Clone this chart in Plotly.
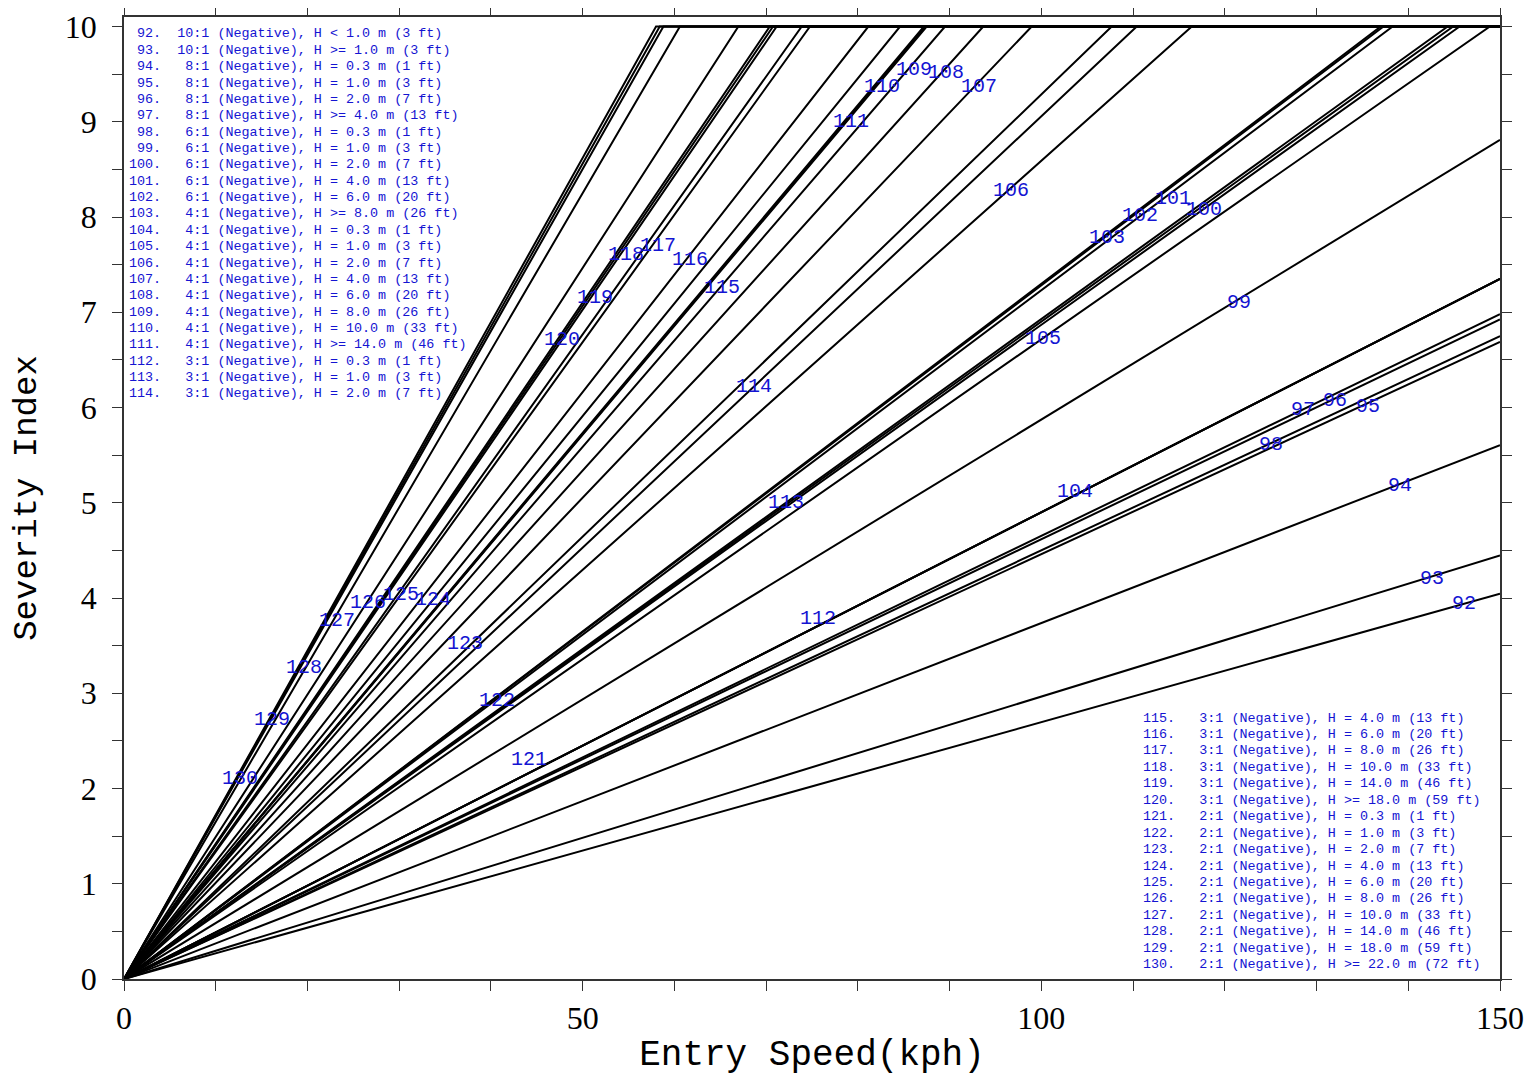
import plotly.graph_objects as go

# ---------------- data ----------------
line_ids = list(range(92, 131))

# end point of each line: speed (kph) where it reaches its final severity, and that severity
end_speed = [150, 150, 150, 150, 150, 150, 150, 150,
             145.6, 138.3, 137.3, 137.0, 150, 148.9, 116.4, 98.95,
             93.67, 89.5, 87.5, 87.2, 150, 144.3, 110.4, 87.35,
             81.14, 74.78, 70.4, 70.75, 71.15, 150, 144.9, 107.67,
             84.6, 73.88, 66.97, 60.6, 58.8, 58.0, 58.4]
end_si = [4.045, 4.447, 5.605, 6.69, 6.925, 6.98, 6.75, 8.81,
          10, 10, 10, 10, 7.35, 10, 10, 10,
          10, 10, 10, 10, 7.35, 10, 10, 10,
          10, 10, 10, 10, 10, 7.35, 10, 10,
          10, 10, 10, 10, 10, 10, 10]

# position of the number label of each line (speed, severity)
label_speed = [146.1, 142.6, 139.1, 135.6, 132.0, 128.5, 125.0, 121.6,
               117.7, 114.3, 110.8, 107.2, 103.7, 100.2, 96.7, 93.2,
               89.6, 86.1, 82.6, 79.2, 75.7, 72.2, 68.7, 65.2,
               61.7, 58.2, 54.7, 51.3, 47.8, 44.2, 40.7, 37.2,
               33.7, 30.2, 26.6, 23.2, 19.6, 16.1, 12.6]
label_si = [3.94, 4.21, 5.18, 6.01, 6.07, 5.98, 5.61, 7.10,
            8.08, 8.19, 8.02, 7.79, 5.12, 6.72, 8.28, 9.37,
            9.52, 9.55, 9.37, 9.00, 3.78, 5.00, 6.22, 7.26,
            7.55, 7.70, 7.61, 7.16, 6.71, 2.30, 2.92, 3.52,
            3.98, 4.04, 3.95, 3.76, 3.27, 2.72, 2.11]

slopes = ["10:1", "10:1", "8:1", "8:1", "8:1", "8:1", "6:1", "6:1",
          "6:1", "6:1", "6:1", "4:1", "4:1", "4:1", "4:1", "4:1",
          "4:1", "4:1", "4:1", "4:1", "3:1", "3:1", "3:1", "3:1",
          "3:1", "3:1", "3:1", "3:1", "3:1", "2:1", "2:1", "2:1",
          "2:1", "2:1", "2:1", "2:1", "2:1", "2:1", "2:1"]
heights = ["H < 1.0 m (3 ft)", "H >= 1.0 m (3 ft)", "H = 0.3 m (1 ft)", "H = 1.0 m (3 ft)",
           "H = 2.0 m (7 ft)", "H >= 4.0 m (13 ft)", "H = 0.3 m (1 ft)", "H = 1.0 m (3 ft)",
           "H = 2.0 m (7 ft)", "H = 4.0 m (13 ft)", "H = 6.0 m (20 ft)", "H >= 8.0 m (26 ft)",
           "H = 0.3 m (1 ft)", "H = 1.0 m (3 ft)", "H = 2.0 m (7 ft)", "H = 4.0 m (13 ft)",
           "H = 6.0 m (20 ft)", "H = 8.0 m (26 ft)", "H = 10.0 m (33 ft)", "H >= 14.0 m (46 ft)",
           "H = 0.3 m (1 ft)", "H = 1.0 m (3 ft)", "H = 2.0 m (7 ft)", "H = 4.0 m (13 ft)",
           "H = 6.0 m (20 ft)", "H = 8.0 m (26 ft)", "H = 10.0 m (33 ft)", "H = 14.0 m (46 ft)",
           "H >= 18.0 m (59 ft)", "H = 0.3 m (1 ft)", "H = 1.0 m (3 ft)", "H = 2.0 m (7 ft)",
           "H = 4.0 m (13 ft)", "H = 6.0 m (20 ft)", "H = 8.0 m (26 ft)", "H = 10.0 m (33 ft)",
           "H = 14.0 m (46 ft)", "H = 18.0 m (59 ft)", "H >= 22.0 m (72 ft)"]

x_tick_values = list(range(0, 151, 10))
x_tick_labels = ["0" if v == 0 else (str(v) if v % 50 == 0 else "") for v in x_tick_values]
y_tick_values = [i * 0.5 for i in range(21)]
y_tick_labels = [str(int(v)) if v == int(v) else "" for v in y_tick_values]

# ---------------- figure ----------------
# the page body adds an 8px offset; figure size/margins compensate for it
OFF = 8
W, H = 1536 - OFF, 1076 - OFF
ML, MR, MT, MB = 124 - OFF, 36, 17 - OFF, 97
# plot area in screen pixels
SX0, SX1, SY0, SY1 = 124, 1500, 17, 979
BLUE = "#1414d2"
MONO = "Liberation Mono"

fig = go.Figure()
for i, lid in enumerate(line_ids):
    fig.add_trace(go.Scatter(
        x=[0, end_speed[i], 150], y=[0, end_si[i], end_si[i]],
        mode="lines", line=dict(color="black", width=2),
        name=str(lid), showlegend=False, hoverinfo="name"))

annotations = []
for i, lid in enumerate(line_ids):
    annotations.append(dict(x=label_speed[i], y=label_si[i], xref="x", yref="y",
                            text=str(lid), showarrow=False,
                            font=dict(family=MONO, size=20, color=BLUE),
                            xanchor="center", yanchor="middle"))


def px2paper(px, py):
    return (px - SX0) / (SX1 - SX0), (SY1 - py) / (SY1 - SY0)


def row_text(i):
    s = f"{str(line_ids[i]) + '.':>4}{slopes[i]:>6} (Negative), {heights[i]}"
    return s.replace(" ", "\u00a0")


n_top = 23
for i in range(len(line_ids)):
    if i < n_top:
        px, py = 127, 34 + 16.36 * i
    else:
        px, py = 1141, 718 + 16.45 * (i - n_top)
    xp, yp = px2paper(px, py)
    annotations.append(dict(x=xp, y=yp, xref="paper", yref="paper", text=row_text(i),
                            showarrow=False, xanchor="left", yanchor="middle",
                            font=dict(family=MONO, size=13.4, color=BLUE)))

axis_common = dict(showgrid=False, zeroline=False, showline=True, linecolor="#333",
                   linewidth=1.5, mirror="allticks", ticks="outside", ticklen=10,
                   tickwidth=1.3, tickcolor="#333",
                   tickfont=dict(family="Liberation Serif", size=32, color="black"))

fig.update_layout(
    width=W, height=H,
    margin=dict(l=ML, r=MR, t=MT, b=MB, autoexpand=False),
    paper_bgcolor="white", plot_bgcolor="white",
    xaxis=dict(range=[0, 150], tickmode="array", tickvals=x_tick_values,
               ticktext=x_tick_labels,
               title=dict(text="Entry Speed(kph)", standoff=6,
                          font=dict(family=MONO, size=36, color="black")),
               **axis_common),
    yaxis=dict(range=[0, 10.1], tickmode="array", tickvals=y_tick_values,
               ticktext=y_tick_labels, ticklabelstandoff=9,
               title=dict(text="Severity Index", standoff=18,
                          font=dict(family=MONO, size=34, color="black")),
               **axis_common),
    annotations=annotations,
)

fig.write_html("out.html")
